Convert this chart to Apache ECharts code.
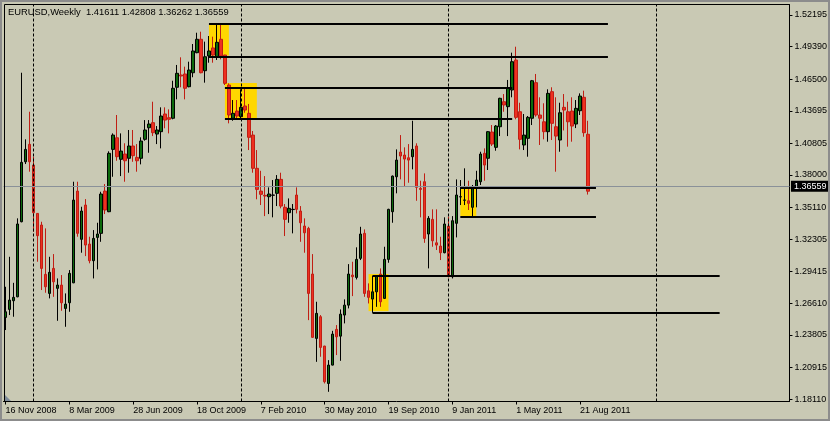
<!DOCTYPE html>
<html><head><meta charset="utf-8">
<script src="https://cdn.jsdelivr.net/npm/echarts@6/dist/echarts.min.js"></script>
<style>html,body{margin:0;padding:0;background:#C9C9B4}#c{width:830px;height:421px}</style>
</head><body><div id="c"></div>
<script>
// ---------- data ----------
const symbolName = 'EURUSD,Weekly';
const firstWeek = '2008-11-16';
const totalWeeks = 197; // shown slots incl. empty future
const xTickLabels = ['16 Nov 2008','8 Mar 2009','28 Jun 2009','18 Oct 2009','7 Feb 2010','30 May 2010','19 Sep 2010','9 Jan 2011','1 May 2011','21 Aug 2011'];
const yTickLabels = [1.18110,1.20915,1.23805,1.26610,1.29415,1.32305,1.35110,1.38000,1.40805,1.43695,1.46500,1.49390,1.52195];
const opens = [1.2536,1.2607,1.2684,1.2719,1.3385,1.3917,1.4072,1.3888,1.3459,1.3356,1.2918,1.2749,1.2971,1.2794,1.2823,1.2616,1.2666,1.2843,1.3657,1.3229,1.3533,1.3187,1.3039,1.3246,1.3282,1.3657,1.3474,1.4027,1.4130,1.3939,1.3986,1.3948,1.4057,1.3956,1.3948,1.4116,1.4219,1.4264,1.4163,1.4184,1.4341,1.4308,1.4303,1.4578,1.4687,1.4696,1.4583,1.4707,1.4885,1.5004,1.4725,1.4856,1.4927,1.4849,1.5004,1.4864,1.4598,1.4303,1.4367,1.4317,1.4412,1.4347,1.4154,1.3859,1.3657,1.3619,1.3607,1.3620,1.3637,1.3761,1.3513,1.3465,1.3493,1.3622,1.3480,1.3347,1.3326,1.2921,1.2350,1.2542,1.2282,1.1950,1.2113,1.2430,1.2370,1.2557,1.2645,1.2912,1.2891,1.3060,1.3282,1.2772,1.2699,1.2763,1.2921,1.2705,1.3051,1.3474,1.3784,1.4003,1.3977,1.3953,1.3962,1.4057,1.3681,1.3740,1.3276,1.3406,1.3198,1.3169,1.3110,1.3347,1.2897,1.3371,1.3605,1.3576,1.3571,1.3513,1.3681,1.3740,1.3992,1.3948,1.4181,1.4045,1.4228,1.4450,1.4406,1.4554,1.4820,1.4361,1.4066,1.4125,1.4303,1.4619,1.4332,1.4272,1.4184,1.4539,1.4228,1.4110,1.4400,1.4361,1.4367,1.4252,1.4370,1.4489,1.41611];
const closes = [1.2586,1.2690,1.2714,1.3365,1.3912,1.4027,1.3917,1.3465,1.3261,1.2971,1.2808,1.2936,1.2852,1.2823,1.2666,1.2654,1.2927,1.3577,1.3282,1.3480,1.3178,1.3039,1.3237,1.3276,1.3631,1.3489,1.3992,1.4154,1.3962,1.4012,1.3926,1.4057,1.3971,1.3926,1.4101,1.4199,1.4252,1.4175,1.4199,1.4323,1.4287,1.4294,1.4569,1.4702,1.4678,1.4569,1.4731,1.4900,1.5004,1.4707,1.4849,1.4900,1.4864,1.4977,1.4856,1.4613,1.4332,1.4347,1.4323,1.4400,1.4376,1.4134,1.3859,1.3672,1.3628,1.3613,1.3631,1.3622,1.3761,1.3524,1.3406,1.3504,1.3495,1.3495,1.3376,1.3287,1.2749,1.2359,1.2572,1.2270,1.1965,1.2113,1.2388,1.2364,1.2565,1.2645,1.2921,1.2897,1.3051,1.3276,1.2749,1.2714,1.2763,1.2903,1.2675,1.3051,1.3495,1.3790,1.3932,1.3968,1.3941,1.3932,1.4027,1.3690,1.3672,1.3237,1.3415,1.3216,1.3178,1.3110,1.3365,1.2903,1.3394,1.3622,1.3607,1.3578,1.3548,1.3690,1.3755,1.3986,1.3888,1.4184,1.4074,1.4234,1.4480,1.4421,1.4569,1.4805,1.4311,1.4116,1.4154,1.4311,1.4636,1.4332,1.4303,1.4184,1.4524,1.4258,1.4145,1.4352,1.4376,1.4272,1.4234,1.4391,1.4500,1.4175,1.36559];
const lows = [1.2424,1.2557,1.2542,1.2715,1.3380,1.3897,1.3829,1.3296,1.3030,1.2779,1.2755,1.2705,1.2719,1.2506,1.2595,1.2453,1.2586,1.2840,1.3252,1.3110,1.3080,1.3016,1.2882,1.2962,1.3207,1.3453,1.3470,1.3784,1.3926,1.3790,1.3740,1.3820,1.3917,1.3829,1.3894,1.4104,1.3997,1.4145,1.4074,1.4036,1.4214,1.4169,1.4294,1.4471,1.4578,1.4471,1.4578,1.4667,1.4880,1.4702,1.4619,1.4796,1.4796,1.4820,1.4826,1.4598,1.4258,1.4281,1.4294,1.4294,1.4352,1.4021,1.3820,1.3584,1.3533,1.3435,1.3453,1.3424,1.3524,1.3504,1.3258,1.3376,1.3282,1.3459,1.3207,1.3110,1.2512,1.2355,1.2142,1.2187,1.1950,1.1876,1.2110,1.2202,1.2151,1.2483,1.2616,1.2725,1.2873,1.3045,1.2719,1.2660,1.2577,1.2630,1.2630,1.2700,1.3021,1.3376,1.3637,1.3761,1.3695,1.3731,1.3850,1.3571,1.3424,1.3198,1.2971,1.3163,1.3134,1.3045,1.3105,1.2890,1.2882,1.3246,1.3533,1.3533,1.3489,1.3435,1.3513,1.3711,1.3749,1.3844,1.4057,1.4015,1.4145,1.4361,1.4145,1.4489,1.4294,1.4027,1.4021,1.3962,1.4243,1.4317,1.4066,1.4116,1.4095,1.4110,1.3829,1.4006,1.4195,1.4051,1.4095,1.4216,1.4332,1.4139,1.36262];
const highs = [1.2808,1.3074,1.2843,1.3415,1.4707,1.4116,1.4361,1.3962,1.3462,1.3385,1.3326,1.3074,1.3098,1.2882,1.2912,1.2749,1.2956,1.3740,1.3740,1.3518,1.3586,1.3252,1.3311,1.3376,1.3651,1.3719,1.4010,1.4169,1.4332,1.4169,1.4081,1.4199,1.4199,1.4074,1.4134,1.4287,1.4287,1.4450,1.4234,1.4400,1.4400,1.4382,1.4636,1.4776,1.4844,1.4761,1.4805,1.4962,1.5062,1.5071,1.4983,1.5033,1.5027,1.5131,1.5140,1.4866,1.4613,1.4465,1.4465,1.4560,1.4569,1.4430,1.4190,1.4021,1.3837,1.3790,1.3690,1.3755,1.3799,1.3820,1.3542,1.3592,1.3542,1.3690,1.3524,1.3415,1.3340,1.3098,1.2675,1.2557,1.2284,1.2157,1.2417,1.2468,1.2607,1.2696,1.3009,1.3030,1.3158,1.3340,1.3317,1.2838,1.2905,1.2912,1.2971,1.3163,1.3500,1.3795,1.4027,1.4154,1.4045,1.4074,1.4281,1.4081,1.3749,1.3814,1.3435,1.3495,1.3495,1.3252,1.3424,1.3429,1.3435,1.3761,1.3755,1.3859,1.3749,1.3711,1.3837,1.4006,1.4036,1.4190,1.4243,1.4243,1.4485,1.4518,1.4643,1.4885,1.4938,1.4441,1.4341,1.4323,1.4643,1.4696,1.4489,1.4436,1.4560,1.4578,1.4489,1.4441,1.4518,1.4450,1.4489,1.4465,1.4524,1.4548,1.42808];
// separators (period grid)
const separatorWeeks = ['4 Jan 2009','3 Jan 2010','2 Jan 2011','1 Jan 2012'];
// horizontal level lines
const levelPrices = [1.51396,1.48493,1.45741,1.43025,1.36865,1.34265,1.29054,1.25770];
const levelStart  = ['8 Nov 2009','8 Nov 2009','6 Dec 2009','6 Dec 2009','23 Jan 2011','23 Jan 2011','22 Aug 2010','22 Aug 2010'];
const levelEnd    = ['9 Oct 2011','9 Oct 2011','24 Apr 2011','24 Apr 2011','18 Sep 2011','18 Sep 2011','22 Apr 2012','22 Apr 2012'];
// highlighted zones
const zoneStart = ['8 Nov 2009','6 Dec 2009','23 Jan 2011','15 Aug 2010'];
const zoneEnd   = ['13 Dec 2009','31 Jan 2010','20 Feb 2011','19 Sep 2010'];
const zoneTop   = [1.51396,1.46159,1.36865,1.29205];
const zoneBottom= [1.48600,1.43052,1.34354,1.25920];

// ---------- build ----------
const MON = ['Jan','Feb','Mar','Apr','May','Jun','Jul','Aug','Sep','Oct','Nov','Dec'];
const cats = [];
const t0 = Date.parse(firstWeek + 'T00:00:00Z');
for (let i = 0; i < totalWeeks; i++) {
  const d = new Date(t0 + i * 7 * 86400000);
  cats.push(d.getUTCDate() + ' ' + MON[d.getUTCMonth()] + ' ' + d.getUTCFullYear());
}
const tickSet = new Set(xTickLabels);
const candleData = opens.map((o, i) => [o, closes[i], lows[i], highs[i]]);
const last = candleData.length - 1;
const header = symbolName + '  ' + [opens[last], highs[last], lows[last], closes[last]].map(v => v.toFixed(5)).join(' ');
const lastClose = closes[last];

const FONT = 'Liberation Sans';
const chart = echarts.init(document.getElementById('c'), null, {renderer: 'canvas'});
chart.setOption({
  animation: false,
  backgroundColor: '#C9C9B4',
  textStyle: {fontFamily: FONT},
  grid: {left: 3.5, top: 4.5, right: 40.5, bottom: 19.5, containLabel: false},
  xAxis: {
    type: 'category', data: cats, boundaryGap: true,
    axisLine: {show: true, lineStyle: {color: '#000', width: 1}},
    axisTick: {show: true, alignWithLabel: true, length: 3, interval: (i, v) => tickSet.has(v), lineStyle: {color: '#000'}},
    axisLabel: {interval: (i, v) => tickSet.has(v), align: 'left', margin: 5, fontSize: 9, color: '#000', fontFamily: FONT},
    splitLine: {show: false}
  },
  yAxis: {
    type: 'value', position: 'right', min: 1.17900, max: 1.53125, scale: true,
    axisLine: {show: true, lineStyle: {color: '#000', width: 1}},
    axisTick: {show: true, length: 3, customValues: yTickLabels, lineStyle: {color: '#000'}},
    axisLabel: {customValues: yTickLabels, formatter: v => v.toFixed(5), margin: 5, fontSize: 9, color: '#000', fontFamily: FONT},
    splitLine: {show: false}
  },
  graphic: [
    {type: 'rect', silent: true, z: 100, shape: {x: 1, y: 1, width: 828, height: 419}, style: {fill: 'none', stroke: '#8c8c8c', lineWidth: 2}},
    {type: 'line', silent: true, z: 100, shape: {x1: 4.5, y1: 4.5, x2: 789.5, y2: 4.5}, style: {stroke: '#000', lineWidth: 1}},
    {type: 'line', silent: true, z: 100, shape: {x1: 4.5, y1: 4.5, x2: 4.5, y2: 401.5}, style: {stroke: '#000', lineWidth: 1}},
    {type: 'polygon', silent: true, z: 100, shape: {points: [[5, 395], [5, 401], [11, 401]]}, style: {fill: '#7d8a99'}},
    {type: 'text', silent: true, z: 100, left: 8, top: 8, style: {text: header, font: '9.4px "Liberation Sans"', fill: '#000'}}
  ],
  series: [
    {
      type: 'line', data: [], z: 1, silent: true,
      markArea: {
        silent: true,
        itemStyle: {color: '#FFD700', opacity: 1, borderWidth: 0},
        label: {show: false},
        data: zoneStart.map((s, i) => [{coord: [s, zoneTop[i]]}, {coord: [zoneEnd[i], zoneBottom[i]]}])
      }
    },
    {
      type: 'line', data: [], z: 2, silent: true,
      markLine: {
        silent: true, symbol: ['none', 'none'], animation: false,
        data: separatorWeeks.map(w => ({xAxis: w, label: {show: false}, lineStyle: {color: '#000', width: 1, type: [3, 2]}}))
          .concat([{yAxis: lastClose, lineStyle: {color: '#8a9199', width: 1, type: 'solid'},
            label: {show: true, position: 'end', formatter: lastClose.toFixed(5), backgroundColor: '#000', color: '#fff',
              padding: [1, 3, 1, 3], fontSize: 9, fontFamily: FONT, distance: 1.5}}])
      }
    },
    {
      type: 'candlestick', data: candleData, z: 3, silent: true, barWidth: 3,
      itemStyle: {color: '#0C6A0C', color0: '#EE3020', borderColor: '#000000', borderColor0: '#C01E14', borderWidth: 1}
    },
    {
      type: 'line', data: [], z: 4, silent: true,
      markLine: {
        silent: true, symbol: ['none', 'none'], animation: false,
        label: {show: false},
        lineStyle: {color: '#000', width: 2, type: 'solid'},
        data: levelPrices.map((p, i) => [{coord: [levelStart[i], p]}, {coord: [levelEnd[i], p]}])
      }
    }
  ]
});
</script></body></html>
